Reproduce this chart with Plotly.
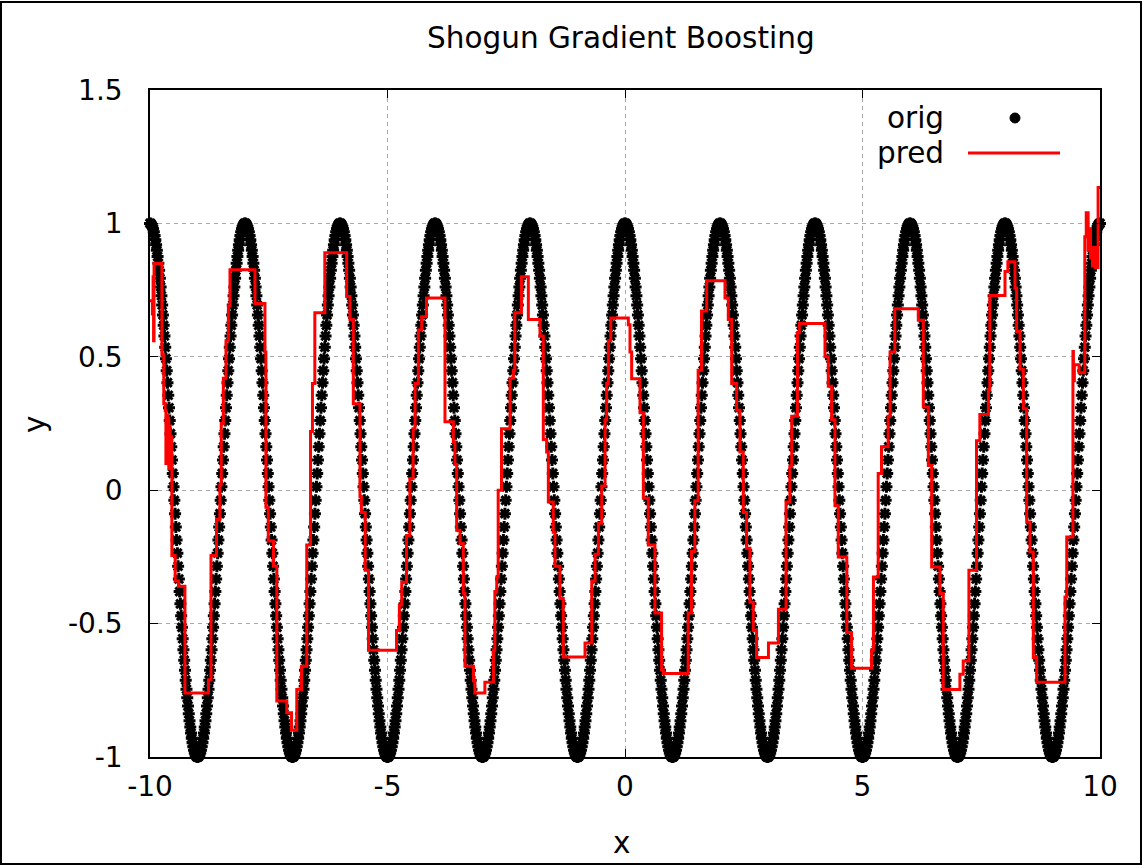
import numpy as np
import plotly.graph_objects as go

# ---- data ----
# one period (x step 0.016) of the "orig" samples, repeated across [-10, 10]
orig_period = [
    1.000, 0.999, 0.995, 0.989, 0.980, 0.969, 0.955, 0.939, 0.920, 0.899,
    0.876, 0.851, 0.824, 0.794, 0.762, 0.729, 0.694, 0.657, 0.618, 0.578,
    0.536, 0.493, 0.448, 0.403, 0.356, 0.309, 0.261, 0.212, 0.163, 0.113,
    0.063, 0.013, -0.038, -0.088, -0.138, -0.187, -0.236, -0.285, -0.333, -0.380,
    -0.426, -0.471, -0.514, -0.557, -0.598, -0.637, -0.675, -0.712, -0.746, -0.778,
    -0.809, -0.838, -0.864, -0.888, -0.910, -0.930, -0.947, -0.962, -0.975, -0.985,
    -0.992, -0.997, -1.000,
    -1.000, -0.997, -0.992, -0.985, -0.975, -0.962, -0.947, -0.930, -0.910, -0.888,
    -0.864, -0.838, -0.809, -0.778, -0.746, -0.712, -0.675, -0.637, -0.598, -0.557,
    -0.514, -0.471, -0.426, -0.380, -0.333, -0.285, -0.236, -0.187, -0.138, -0.088,
    -0.038, 0.013, 0.063, 0.113, 0.163, 0.212, 0.261, 0.309, 0.356, 0.403,
    0.448, 0.493, 0.536, 0.578, 0.618, 0.657, 0.694, 0.729, 0.762, 0.794,
    0.824, 0.851, 0.876, 0.899, 0.920, 0.939, 0.955, 0.969, 0.980, 0.989,
    0.995, 0.999,
]
n_periods = 10
orig_y = orig_period * n_periods + [1.000]
orig_x = np.linspace(-10, 10, len(orig_y))

# "pred" step function: x where each step starts, and its value
pred_x = [
    -10.0, -9.95, -9.935, -9.925, -9.915, -9.75, -9.71, -9.68, -9.665, -9.65,
    -9.635, -9.62, -9.605, -9.59, -9.575, -9.555, -9.54, -9.47, -9.40, -9.265,
    -8.77, -8.716, -8.60, -8.53, -8.50, -8.456, -8.40, -8.35, -8.316, -7.79,
    -7.58, -7.56, -7.51, -7.40, -7.33, -7.12, -7.02, -6.91, -6.81, -6.70,
    -6.62, -6.58, -6.53, -6.32,
    -5.86, -5.79, -5.72, -5.58, -5.55, -5.47, -5.40, -4.81, -4.75, -4.70,
    -4.60, -4.53, -4.46, -4.42, -4.35, -4.28, -4.18, -3.79, -3.614, -3.58,
    -3.544, -3.474, -3.404, -3.37, -3.19, -3.16, -2.95, -2.77, -2.74, -2.70,
    -2.67, -2.60, -2.42, -2.35, -2.32, -2.18,
    -2.035, -1.79, -1.72, -1.65, -1.614, -1.51, -1.474, -1.37, -1.30, -0.842,
    -0.70, -0.63, -0.56, -0.49, -0.42, -0.386, -0.35, -0.30, 0.07, 0.105,
    0.14, 0.316, 0.386, 0.49, 0.63, 0.77, 0.807, 1.33, 1.40, 1.47,
    1.54, 1.61, 1.72,
    2.105, 2.175, 2.246, 2.35, 2.42, 2.49, 2.56, 2.63, 2.70, 2.77,
    3.02, 3.23, 3.39, 3.47, 3.51, 3.63, 3.67, 4.21, 4.28, 4.35,
    4.42, 4.49, 4.67, 4.77, 5.19, 5.23, 5.33, 5.40, 5.54, 5.58,
    5.68,
    6.175, 6.28, 6.386, 6.456, 6.63, 6.70, 7.05, 7.12, 7.24, 7.40,
    7.47, 7.65, 7.68, 8.0, 8.06, 8.21, 8.245, 8.316, 8.386, 8.456,
    8.526, 8.596, 8.667, 9.263, 9.30, 9.43, 9.44, 9.46, 9.56, 9.68,
    9.71, 9.75, 9.77, 9.80, 9.84, 9.86, 9.90, 9.96, 10.0,
]
pred_y = [
    0.71, 0.66, 0.80, 0.56, 0.85, 0.51, 0.325, 0.30, 0.10, 0.28,
    0.12, 0.27, 0.08, 0.24, 0.10, 0.20, -0.245, -0.34, -0.36, -0.76,
    -0.71, -0.245, -0.11, 0.02, 0.25, 0.42, 0.56, 0.69, 0.826, 0.70,
    0.518, -0.064, -0.19, -0.285, -0.79, -0.834, -0.90, -0.747, -0.66, -0.205,
    0.22, 0.40, 0.665, 0.89,
    0.726, 0.64, 0.324, -0.024, -0.084, -0.30, -0.60, -0.526, -0.43, -0.345,
    -0.17, 0.043, 0.23, 0.40, 0.60, 0.65, 0.72, 0.257, 0.18, 0.096,
    -0.15, -0.20, -0.386, -0.66, -0.714, -0.76, -0.72, -0.60, -0.38, -0.325,
    0.0, 0.23, 0.42, 0.45, 0.665, 0.80,
    0.64, 0.578, 0.19, 0.143, -0.044, -0.158, -0.285, -0.406, -0.625, -0.573,
    -0.34, -0.24, -0.124, 0.016, 0.264, 0.40, 0.56, 0.645, 0.62, 0.518,
    0.418, 0.29, -0.03, -0.205, -0.46, -0.673, -0.687, -0.46, -0.23, -0.04,
    0.45, 0.672, 0.785,
    0.72, 0.64, 0.40, 0.30, 0.143, -0.084, -0.218, -0.42, -0.526, -0.627,
    -0.573, -0.446, -0.044, 0.09, 0.277, 0.59, 0.625, 0.50, 0.39, 0.264,
    -0.058, -0.25, -0.533, -0.667, -0.60, -0.325, 0.063, 0.163, 0.277, 0.518,
    0.68,
    0.637, 0.312, 0.093, -0.288, -0.387, -0.747, -0.69, -0.64, -0.30, 0.185,
    0.284, 0.376, 0.73, 0.82, 0.856, 0.757, 0.595, 0.453, 0.305, -0.119,
    -0.232, -0.627, -0.72, -0.40, -0.175, 0.52, 0.41, 0.47, 0.44, 0.95,
    1.04, 0.90, 0.98, 0.87, 0.84, 0.91, 0.835, 1.135, 1.135,
]
assert len(pred_x) == len(pred_y)

x_ticks = [-10, -5, 0, 5, 10]
x_tick_labels = ["-10", "-5", "0", "5", "10"]
y_ticks = [-1, -0.5, 0, 0.5, 1, 1.5]
y_tick_labels = ["-1", "-0.5", "0", "0.5", "1", "1.5"]

FONT = "DejaVu Sans"
TICK_SIZE = 28
TEXT_SIZE = 29.5

fig = go.Figure()
fig.add_trace(go.Scatter(
    x=orig_x, y=orig_y, mode="markers", name="orig",
    marker=dict(symbol="asterisk", size=10, color="black",
                line=dict(color="black", width=3)),
    cliponaxis=False, showlegend=False,
))
fig.add_trace(go.Scatter(
    x=pred_x, y=pred_y, mode="lines", name="pred",
    line=dict(color="#ff0000", width=3, shape="hv"),
    showlegend=False,
))

L, R, T, B = 150, 1100, 90, 757
W, H = 1143, 866
def px(x):
    return (x - L) / (R - L)
def py(y):
    return (B - y) / (B - T)

axis_common = dict(
    showline=True, linecolor="black", linewidth=1.5, mirror="ticks",
    ticks="inside", ticklen=8, tickcolor="black", tickwidth=1,
    showgrid=True, gridcolor="#a8a8a8", gridwidth=1, griddash="4px,4px",
    zeroline=False, tickfont=dict(family=FONT, size=TICK_SIZE, color="black"),
)

fig.update_layout(
    width=W, height=H,
    margin=dict(l=L, r=W - R, t=T, b=H - B),
    paper_bgcolor="white", plot_bgcolor="white",
    showlegend=False,
    xaxis=dict(range=[-10, 10], tickvals=x_ticks, ticktext=x_tick_labels,
               ticklabelstandoff=4, **axis_common),
    yaxis=dict(range=[-1, 1.5], tickvals=y_ticks, ticktext=y_tick_labels,
               ticklabelstandoff=20, **axis_common),
    annotations=[
        dict(text="Shogun Gradient Boosting", xref="paper", yref="paper",
             x=px(621), y=py(38), showarrow=False, xanchor="center", yanchor="middle",
             font=dict(family=FONT, size=TEXT_SIZE, color="black")),
        dict(text="x", xref="paper", yref="paper", x=px(621), y=py(843),
             showarrow=False, xanchor="center", yanchor="middle",
             font=dict(family=FONT, size=TEXT_SIZE, color="black")),
        dict(text="y", xref="paper", yref="paper", x=px(35), y=py(425),
             showarrow=False, xanchor="center", yanchor="middle", textangle=-90,
             font=dict(family=FONT, size=TEXT_SIZE, color="black")),
        dict(text="orig", xref="paper", yref="paper", x=px(946), y=py(118),
             showarrow=False, xanchor="right", yanchor="middle",
             font=dict(family=FONT, size=TEXT_SIZE, color="black")),
        dict(text="pred", xref="paper", yref="paper", x=px(946), y=py(153),
             showarrow=False, xanchor="right", yanchor="middle",
             font=dict(family=FONT, size=TEXT_SIZE, color="black")),
    ],
    shapes=[
        # legend samples
        dict(type="circle", xref="paper", yref="paper",
             x0=px(1010), x1=px(1020), y0=py(123), y1=py(113),
             fillcolor="black", line=dict(color="black", width=1)),
        dict(type="line", xref="paper", yref="paper",
             x0=px(968), x1=px(1060), y0=py(153), y1=py(153),
             line=dict(color="#ff0000", width=3)),
        # outer frame of the picture
        dict(type="rect", xref="paper", yref="paper",
             x0=px(1), x1=px(1141), y0=py(864), y1=py(2),
             line=dict(color="black", width=2)),
    ],
)

fig.write_html(
    "out.html",
    config={"displayModeBar": False},
    post_script="document.body.style.margin='0';document.body.style.overflow='hidden';",
)
